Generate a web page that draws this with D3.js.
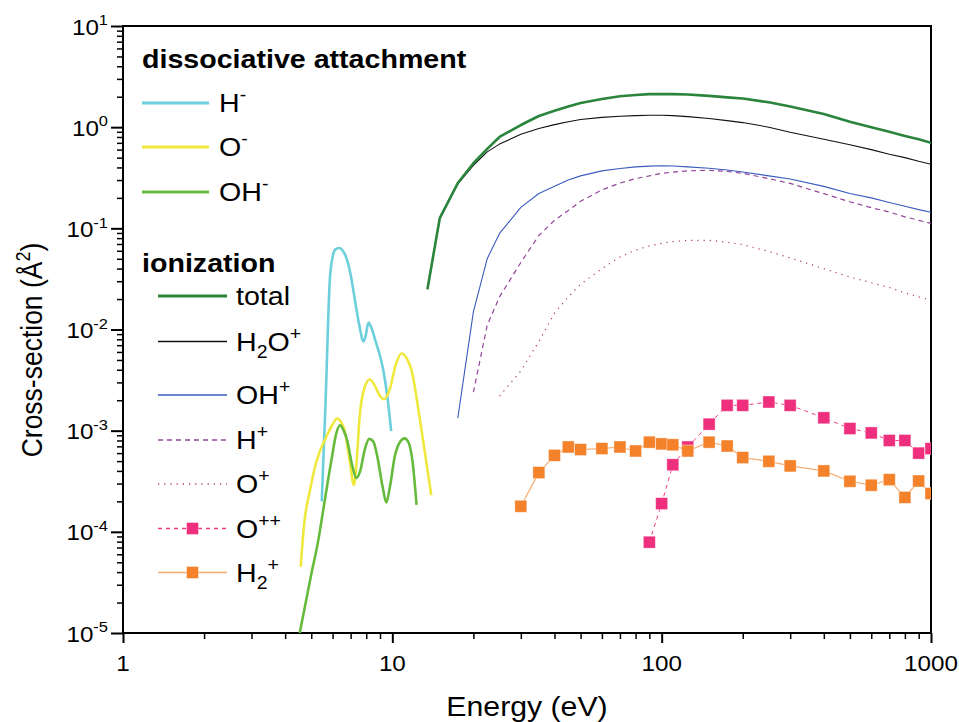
<!DOCTYPE html>
<html>
<head>
<meta charset="utf-8">
<script src="https://cdn.jsdelivr.net/npm/d3@7"></script>
<style>
  body { margin: 0; background: #fff; }
  svg { display: block; font-family: "Liberation Sans", Arial, Helvetica, sans-serif; }
</style>
</head>
<body>
<div id="chart"></div>
<script>
// Electron-H2O cross-sections
var energyIon = [13.5, 15, 17.5, 20, 22.5, 25, 30, 35, 40, 45, 50, 60, 70, 80, 90, 100, 110, 125, 150, 175, 200, 250, 300, 400, 500, 600, 700, 800, 900, 1000];
var total = [0.025, 0.126, 0.28, 0.44, 0.61, 0.80, 1.05, 1.29, 1.45, 1.60, 1.73, 1.90, 2.02, 2.08, 2.12, 2.13, 2.12, 2.10, 2.04, 1.97, 1.92, 1.76, 1.60, 1.35, 1.13, 1.00, 0.90, 0.82, 0.76, 0.70];
var h2oPlus = [0.025, 0.125, 0.275, 0.42, 0.57, 0.68, 0.85, 0.97, 1.06, 1.13, 1.19, 1.25, 1.28, 1.30, 1.31, 1.31, 1.30, 1.27, 1.22, 1.16, 1.11, 1.00, 0.89, 0.76, 0.67, 0.60, 0.54, 0.50, 0.46, 0.43];

var energyOH = [17.5, 20, 22.5, 25, 30, 35, 40, 45, 50, 60, 70, 80, 90, 100, 110, 125, 150, 175, 200, 250, 300, 400, 500, 600, 700, 800, 900, 1000];
var ohPlus = [0.00133, 0.015, 0.050, 0.089, 0.161, 0.221, 0.26, 0.30, 0.33, 0.37, 0.39, 0.405, 0.412, 0.415, 0.413, 0.405, 0.392, 0.377, 0.36, 0.33, 0.307, 0.26, 0.221, 0.20, 0.18, 0.165, 0.153, 0.144];

var energyH = [20, 22.5, 25, 30, 35, 40, 45, 50, 60, 70, 80, 90, 100, 110, 125, 150, 175, 200, 250, 300, 400, 500, 600, 700, 800, 900, 1000];
var hPlus = [0.0024, 0.011, 0.021, 0.046, 0.085, 0.12, 0.15, 0.185, 0.24, 0.28, 0.31, 0.33, 0.35, 0.36, 0.37, 0.375, 0.365, 0.35, 0.31, 0.278, 0.22, 0.183, 0.16, 0.145, 0.13, 0.12, 0.112];

var energyO = [25, 30, 35, 40, 45, 50, 60, 70, 80, 90, 100, 110, 125, 150, 175, 200, 250, 300, 400, 500, 600, 700, 800, 900, 1000];
var oPlus = [0.0022, 0.0039, 0.0076, 0.0145, 0.021, 0.028, 0.040, 0.052, 0.061, 0.067, 0.071, 0.074, 0.076, 0.076, 0.073, 0.069, 0.059, 0.051, 0.040, 0.033, 0.029, 0.026, 0.023, 0.021, 0.0195];

var energyO2 = [90, 100, 110, 125, 150, 175, 200, 250, 300, 400, 500, 600, 700, 800, 900, 1000];
var o2Plus = [7.9e-5, 1.9e-4, 4.6e-4, 6.9e-4, 1.16e-3, 1.78e-3, 1.78e-3, 1.92e-3, 1.78e-3, 1.34e-3, 1.05e-3, 9.5e-4, 8.0e-4, 8.0e-4, 6.0e-4, 6.65e-4];

var energyH2 = [30, 35, 40, 45, 50, 60, 70, 80, 90, 100, 110, 125, 150, 175, 200, 250, 300, 400, 500, 600, 700, 800, 900, 1000];
var h2Plus = [1.79e-4, 3.85e-4, 5.7e-4, 6.9e-4, 6.5e-4, 6.65e-4, 6.9e-4, 6.3e-4, 7.7e-4, 7.4e-4, 7.25e-4, 6.3e-4, 7.7e-4, 7.05e-4, 5.42e-4, 4.98e-4, 4.48e-4, 4.0e-4, 3.16e-4, 2.89e-4, 3.28e-4, 2.19e-4, 3.18e-4, 2.39e-4];

// dissociative attachment
var energyHm = [5.47, 5.65, 5.86, 6.0, 6.15, 6.35, 6.55, 6.75, 7.0, 7.3, 7.56, 7.8, 7.95, 8.15, 8.35, 8.7, 9.0, 9.25, 9.6, 9.9];
var hMinus = [2.0e-4, 1.9e-3, 0.031, 0.052, 0.062, 0.064, 0.060, 0.051, 0.035, 0.018, 0.0106, 0.0076, 0.0085, 0.0117, 0.0105, 0.0074, 0.0055, 0.0040, 0.0021, 0.00099];

var energyOm = [4.57, 4.69, 4.95, 5.22, 5.69, 6.0, 6.23, 6.45, 6.65, 6.95, 7.2, 7.35, 7.56, 7.9, 8.25, 8.6, 9.0, 9.3, 9.75, 10.3, 10.8, 11.3, 11.8, 12.6, 13.4, 13.95];
var oMinus = [4.5e-5, 1.1e-4, 2.6e-4, 4.9e-4, 8.7e-4, 1.15e-3, 1.32e-3, 1.22e-3, 1.0e-3, 5.0e-4, 2.9e-4, 4.5e-4, 1.37e-3, 2.7e-3, 3.2e-3, 2.8e-3, 2.2e-3, 2.05e-3, 2.5e-3, 4.5e-3, 5.8e-3, 5.2e-3, 3.9e-3, 1.4e-3, 4.7e-4, 2.3e-4];

var energyOHm = [4.53, 5.01, 5.3, 5.53, 5.94, 6.2, 6.4, 6.6, 6.8, 7.1, 7.35, 7.6, 7.9, 8.2, 8.5, 8.8, 9.2, 9.5, 9.8, 10.2, 10.7, 11.1, 11.5, 11.9, 12.3];
var ohMinus = [1.0e-5, 3.9e-5, 8.0e-5, 1.6e-4, 5.1e-4, 9.5e-4, 1.13e-3, 1.0e-3, 8.0e-4, 4.5e-4, 3.4e-4, 4.0e-4, 6.5e-4, 8.3e-4, 7.8e-4, 5.5e-4, 2.8e-4, 1.95e-4, 2.8e-4, 5.5e-4, 7.8e-4, 8.4e-4, 7.6e-4, 4.8e-4, 1.85e-4];

var xTicks = [1, 10, 100, 1000];
var xTickLabels = ["1", "10", "100", "1000"];
var yTicks = [1e-5, 1e-4, 1e-3, 1e-2, 1e-1, 1, 10];
var yTickExps = ["-5", "-4", "-3", "-2", "-1", "0", "1"];

var w = 959, h = 722;
var padL = 123, padR = 931, padT = 26, padB = 633;
var SX = 1.1; // the figure's text is a bit wide

var svg = d3.select("#chart").append("svg")
  .attr("width", w)
  .attr("height", h);

var x = d3.scaleLog().domain([1, 1000]).range([padL, padR]);
var y = d3.scaleLog().domain([1e-5, 10]).range([padB, padT]);

function zip(xs, ys) {
  return xs.map(function(e, i) { return [e, ys[i]]; });
}

// text in a horizontally stretched group
function stretched(parent, px, py, size, anchor, weight) {
  return parent.append("g")
    .attr("transform", "translate(" + px + "," + py + ") scale(" + SX + ",1)")
    .append("text")
    .attr("font-size", size)
    .attr("text-anchor", anchor || "start")
    .attr("font-weight", weight || "normal")
    .attr("fill", "#000");
}

// "H_{2}O^{+}" style labels
function rich(t, s, fs) {
  var off = 0;
  s.split(/(\^\{[^}]*\}|_\{[^}]*\})/).filter(function(p) { return p; }).forEach(function(p) {
    var target = 0, str = p, size = fs;
    if (p[0] === "^") { target = -0.42 * fs; str = p.slice(2, -1); size = fs * 0.68; }
    else if (p[0] === "_") { target = 0.26 * fs; str = p.slice(2, -1); size = fs * 0.68; }
    t.append("tspan").attr("dy", target - off).attr("font-size", size).text(str);
    off = target;
  });
}

svg.append("clipPath").attr("id", "plotclip")
  .append("rect")
  .attr("x", padL).attr("y", padT)
  .attr("width", padR - padL).attr("height", padB - padT);

// axes
var minorX = [];
[1, 10, 100].forEach(function(d) { for (var k = 2; k <= 9; k++) minorX.push(d * k); });
var minorY = [];
[1e-5, 1e-4, 1e-3, 1e-2, 1e-1, 1].forEach(function(d) { for (var k = 2; k <= 9; k++) minorY.push(d * k); });

var gx = svg.append("g").attr("transform", "translate(0," + padB + ")");
gx.append("g").call(d3.axisBottom(x).tickValues(minorX).tickSize(6).tickFormat(""))
  .call(function(g) { g.select(".domain").remove(); g.selectAll("line").attr("stroke-width", 1.5); });
gx.append("g").call(d3.axisBottom(x).tickValues(xTicks).tickSize(10).tickFormat(""))
  .call(function(g) { g.select(".domain").remove(); g.selectAll("line").attr("stroke-width", 2); });

var gy = svg.append("g").attr("transform", "translate(" + padL + ",0)");
gy.append("g").call(d3.axisLeft(y).tickValues(minorY).tickSize(6).tickFormat(""))
  .call(function(g) { g.select(".domain").remove(); g.selectAll("line").attr("stroke-width", 1.5); });
gy.append("g").call(d3.axisLeft(y).tickValues(yTicks).tickSize(12).tickFormat(""))
  .call(function(g) { g.select(".domain").remove(); g.selectAll("line").attr("stroke-width", 2); });

xTicks.forEach(function(d, i) {
  stretched(svg, x(d), 671, 22, "middle").text(xTickLabels[i]);
});
yTicks.forEach(function(d, i) {
  var t = stretched(svg, 108, y(d) + 8.5, 22, "end");
  rich(t, "10^{" + yTickExps[i] + "}", 22);
});

// frame
svg.append("rect")
  .attr("x", padL).attr("y", padT)
  .attr("width", padR - padL).attr("height", padB - padT)
  .attr("fill", "none").attr("stroke", "#000").attr("stroke-width", 2);

// axis titles
stretched(svg, (padL + padR) / 2, 716, 27.5, "middle").text("Energy (eV)");
var yt = svg.append("g")
  .attr("transform", "translate(42,350) rotate(-90) scale(1," + SX + ")")
  .append("text").attr("font-size", 26.5).attr("text-anchor", "middle").attr("fill", "#000");
rich(yt, "Cross-section (Å^{2})", 26.5);

// series
var series = [
  { name: "H^{-}", group: "da", xs: energyHm, ys: hMinus, color: "#6ccfdc", width: 2.6, dash: null, smooth: true },
  { name: "O^{-}", group: "da", xs: energyOm, ys: oMinus, color: "#f0e83c", width: 2.6, dash: null, smooth: true },
  { name: "OH^{-}", group: "da", xs: energyOHm, ys: ohMinus, color: "#66bb3c", width: 2.6, dash: null, smooth: true },
  { name: "total", group: "ion", xs: energyIon, ys: total, color: "#2a843c", width: 2.6, dash: null },
  { name: "H_{2}O^{+}", group: "ion", xs: energyIon, ys: h2oPlus, color: "#111", width: 1.1, dash: null },
  { name: "OH^{+}", group: "ion", xs: energyOH, ys: ohPlus, color: "#3a5cbc", width: 1.1, dash: null },
  { name: "H^{+}", group: "ion", xs: energyH, ys: hPlus, color: "#93449a", width: 1.2, dash: "5,4" },
  { name: "O^{+}", group: "ion", xs: energyO, ys: oPlus, color: "#a8404c", width: 1.2, dash: "1.2,5" },
  { name: "O^{++}", group: "ion", xs: energyO2, ys: o2Plus, color: "#ee3a84", width: 1, dash: "4,4", marker: "#ee2f7d" },
  { name: "H_{2}^{+}", group: "ion", xs: energyH2, ys: h2Plus, color: "#f7ad72", width: 1.2, dash: null, marker: "#f4822b" }
];

var plot = svg.append("g").attr("clip-path", "url(#plotclip)");
var drawOrder = [0, 1, 2, 4, 3, 5, 6, 7, 8, 9];

drawOrder.forEach(function(i) {
  var s = series[i];
  var pts = zip(s.xs, s.ys);
  var line = d3.line()
    .x(function(d) { return x(d[0]); })
    .y(function(d) { return y(d[1]); })
    .curve(s.smooth ? d3.curveMonotoneX : d3.curveLinear);
  plot.append("path")
    .datum(pts)
    .attr("d", line)
    .attr("fill", "none")
    .attr("stroke", s.color)
    .attr("stroke-width", s.width)
    .attr("stroke-dasharray", s.dash)
    .attr("stroke-linejoin", "round");
  if (s.marker) {
    plot.selectAll(null)
      .data(pts)
      .enter().append("rect")
      .attr("x", function(d) { return x(d[0]) - 6; })
      .attr("y", function(d) { return y(d[1]) - 6; })
      .attr("width", 12).attr("height", 12)
      .attr("fill", s.marker)
      .attr("stroke", "#fff").attr("stroke-opacity", 0.5).attr("stroke-width", 0.8);
  }
});

// legend
stretched(svg, 142, 68, 26, "start", "bold").text("dissociative attachment");
stretched(svg, 142, 272, 26, "start", "bold").text("ionization");

var legendY = [103, 147, 192, 296, 341.5, 395, 440, 484, 528.5, 572.5];
series.forEach(function(s, i) {
  var ly = legendY[i];
  var x1 = s.group === "da" ? 142 : 158;
  var x2 = s.group === "da" ? 209 : 227;
  var tx = s.group === "da" ? 219 : 236;
  svg.append("line")
    .attr("x1", x1).attr("x2", x2).attr("y1", ly).attr("y2", ly)
    .attr("stroke", s.color)
    .attr("stroke-width", s.group === "da" ? 3 : s.width + 0.3)
    .attr("stroke-dasharray", s.dash);
  if (s.marker) {
    svg.append("rect")
      .attr("x", (x1 + x2) / 2 - 6).attr("y", ly - 6)
      .attr("width", 12).attr("height", 12)
      .attr("fill", s.marker)
      .attr("stroke", "#fff").attr("stroke-opacity", 0.5).attr("stroke-width", 0.8);
  }
  var t = stretched(svg, tx, ly + 9.3, 26, "start");
  rich(t, s.name, 26);
});
</script>
</body>
</html>
